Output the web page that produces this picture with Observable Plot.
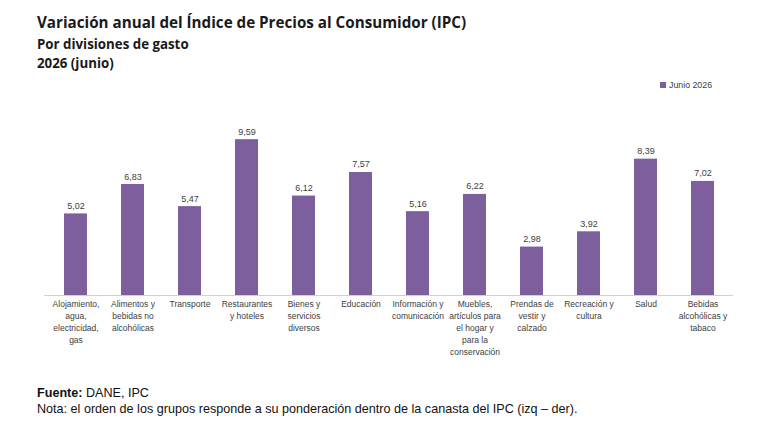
<!DOCTYPE html>
<html>
<head>
<meta charset="utf-8">
<script src="https://cdn.jsdelivr.net/npm/d3@7"></script>
<script src="https://cdn.jsdelivr.net/npm/@observablehq/plot@0.6"></script>
<style>
  html, body { margin: 0; padding: 0; background: #fff; }
  #wrap { position: relative; width: 768px; height: 431px; overflow: hidden; font-family: "Liberation Sans", Arial, sans-serif; }
  .title { position: absolute; left: 37px; font-family: "Open Sans", "Noto Sans", sans-serif; font-weight: 700; color: #1a1a1a; white-space: nowrap; }
  #t1 { top: 12px; font-size: 15.2px; }
  #t2 { top: 35px; font-size: 13.3px; }
  #t3 { top: 54px; font-size: 13.3px; }
  #legend { position: absolute; left: 660px; top: 80px; font-size: 8.8px; color: #404040; display: flex; align-items: center; gap: 3px; }
  #legend span.sw { width: 6px; height: 6px; background: #7e5f9d; display: inline-block; }
  #chart { position: absolute; left: 0; top: 0; }
  .foot { position: absolute; left: 37px; font-size: 12.6px; color: #111; white-space: nowrap; }
  #f1 { top: 386px; }
  #f2 { top: 402px; }
</style>
</head>
<body>
<div id="wrap">
  <div class="title" id="t1">Variación anual del Índice de Precios al Consumidor (IPC)</div>
  <div class="title" id="t2">Por divisiones de gasto</div>
  <div class="title" id="t3">2026 (junio)</div>
  <div id="chart"></div>
  <div id="legend"><span class="sw"></span><span>Junio 2026</span></div>
  <div class="foot" id="f1"><b>Fuente:</b> DANE, IPC</div>
  <div class="foot" id="f2">Nota: el orden de los grupos responde a su ponderación dentro de la canasta del IPC (izq – der).</div>
</div>
<script>
const categories = [
  "Alojamiento,\nagua,\nelectricidad,\ngas",
  "Alimentos y\nbebidas no\nalcohólicas",
  "Transporte",
  "Restaurantes\ny hoteles",
  "Bienes y\nservicios\ndiversos",
  "Educación",
  "Información y\ncomunicación",
  "Muebles,\nartículos para\nel hogar y\npara la\nconservación",
  "Prendas de\nvestir y\ncalzado",
  "Recreación y\ncultura",
  "Salud",
  "Bebidas\nalcohólicas y\ntabaco"
];
const values = [5.02, 6.83, 5.47, 9.59, 6.12, 7.57, 5.16, 6.22, 2.98, 3.92, 8.39, 7.02];
const seriesName = "Junio 2026";

const data = categories.map((c, i) => ({ cat: c, value: values[i] }));
const fmt = v => v.toFixed(2).replace(".", ",");

const chart = Plot.plot({
  width: 768,
  height: 380,
  marginTop: 100,
  marginBottom: 85,
  marginLeft: 44,
  marginRight: 35,
  style: { fontFamily: "'Liberation Sans', Arial, sans-serif", color: "#404040", background: "transparent" },
  x: { domain: categories, paddingInner: 0.6, paddingOuter: 0.3, label: null },
  y: { domain: [0, 12], axis: null },
  marks: [
    Plot.barY(data, { x: "cat", y: "value", fill: "#7e5f9d" }),
    Plot.ruleY([0], { stroke: "#d0d0d0", strokeWidth: 1.2 }),
    Plot.text(data, { x: "cat", y: "value", text: d => fmt(d.value), dy: -5, lineAnchor: "bottom", fontSize: 9, fill: "#404040" }),
    Plot.axisX({ tickSize: 0, tickPadding: 3, fontSize: 8.5, lineHeight: 1.41, label: null, fill: "#404040" })
  ]
});
document.getElementById("chart").appendChild(chart);
</script>
</body>
</html>
